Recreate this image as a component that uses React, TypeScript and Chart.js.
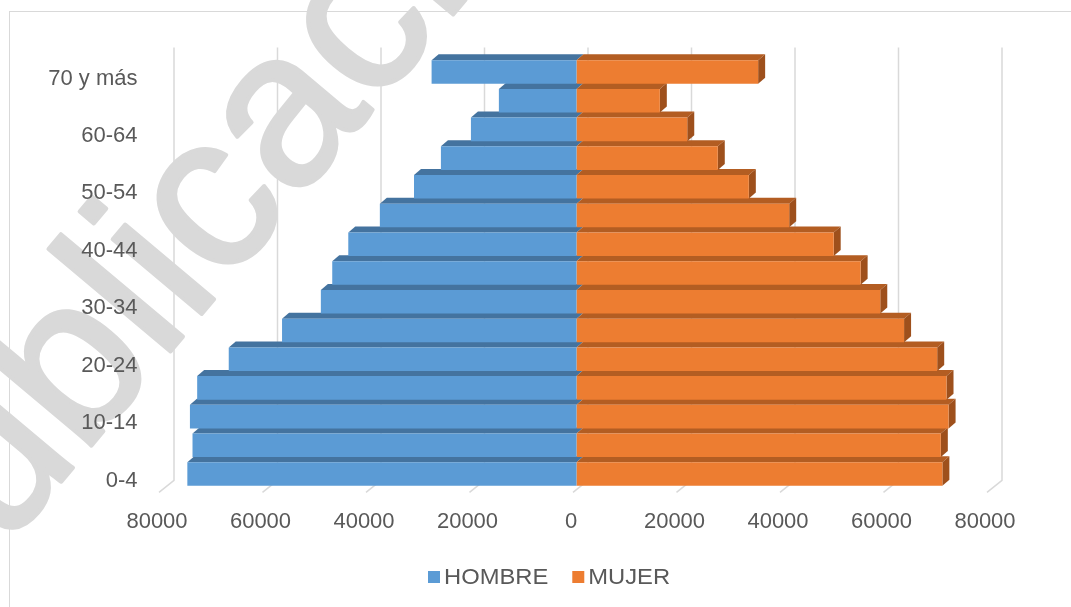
import React, { useEffect, useRef } from 'react';
import { Chart, registerables } from 'chart.js';

Chart.register(...registerables);

// Age groups, youngest first (drawn bottom-up)
const ageGroups = [
  '0-4', '5-9', '10-14', '15-19', '20-24', '25-29', '30-34', '35-39',
  '40-44', '45-49', '50-54', '55-59', '60-64', '65-69', '70 y más',
];
const hombre = [
  75200, 74200, 74700, 73300, 67200, 56900, 49400, 47200,
  44100, 38000, 31400, 26200, 20400, 15000, 28000,
];
const mujer = [
  70700, 70400, 71900, 71500, 69700, 63300, 58700, 54900,
  49700, 41100, 33300, 27300, 21400, 16100, 35100,
];
const seriesNames = ['HOMBRE', 'MUJER'];
const axisMin = -80000;
const axisMax = 80000;
const axisStep = 20000;

const FONT = '"Liberation Sans", Arial, sans-serif';
const TEXT_COLOR = '#595959';
const frontColors = ['#5B9BD5', '#ED7D31'];
const topColors = ['#44739F', '#B35D22'];
const sideColors = ['#3C6690', '#9E501C'];

// Oblique depth of each bar and of the back wall
const DEPTH_X = 7;
const DEPTH_Y = 6;
const WALL_X = 11.5;
const WALL_Y = 10;

const pyramidDecor = {
  id: 'pyramidDecor',
  beforeDraw(chart: any) {
    const { ctx, width, height } = chart;
    ctx.save();
    ctx.fillStyle = '#ffffff';
    ctx.fillRect(0, 0, width, height);
    ctx.strokeStyle = '#d9d9d9';
    ctx.lineWidth = 1;
    ctx.strokeRect(9.5, 11.5, width + 20, height + 20);
    // watermark
    ctx.translate(-75, 644);
    ctx.rotate((-50 * Math.PI) / 180);
    ctx.font = `220px ${FONT}`;
    ctx.fillStyle = '#d9d9d9';
    ctx.strokeStyle = '#d9d9d9';
    ctx.lineWidth = 4;
    ctx.lineJoin = 'round';
    ctx.textBaseline = 'alphabetic';
    ctx.fillText('publicación', 0, 0);
    ctx.strokeText('publicación', 0, 0);
    ctx.restore();
  },
  beforeDatasetsDraw(chart: any) {
    const { ctx, chartArea, scales } = chart;
    const xs = scales.x;
    ctx.save();
    // back-wall gridlines with floor slant
    ctx.strokeStyle = '#d9d9d9';
    ctx.lineWidth = 1.5;
    xs.ticks.forEach((t: any) => {
      const x = xs.getPixelForValue(t.value) + WALL_X;
      ctx.beginPath();
      ctx.moveTo(x, chartArea.top - WALL_Y);
      ctx.lineTo(x, chartArea.bottom - 8);
      ctx.lineTo(x - 15, chartArea.bottom + 4);
      ctx.stroke();
    });
    // top and end faces of the bars
    chart.data.datasets.forEach((_ds: any, di: number) => {
      const meta = chart.getDatasetMeta(di);
      meta.data.forEach((bar: any) => {
        const { x, base, y, height } = bar.getProps(['x', 'base', 'y', 'height'], true);
        const l = Math.min(x, base);
        const r = Math.max(x, base);
        const top = y - height / 2;
        const bottom = y + height / 2;
        ctx.fillStyle = topColors[di];
        ctx.beginPath();
        ctx.moveTo(l, top);
        ctx.lineTo(r, top);
        ctx.lineTo(r + DEPTH_X, top - DEPTH_Y);
        ctx.lineTo(l + DEPTH_X, top - DEPTH_Y);
        ctx.closePath();
        ctx.fill();
        if (x > base) {
          ctx.fillStyle = sideColors[di];
          ctx.beginPath();
          ctx.moveTo(r, top);
          ctx.lineTo(r + DEPTH_X, top - DEPTH_Y);
          ctx.lineTo(r + DEPTH_X, bottom - DEPTH_Y);
          ctx.lineTo(r, bottom);
          ctx.closePath();
          ctx.fill();
        }
      });
    });
    ctx.restore();
  },
  afterDraw(chart: any) {
    const { ctx, width } = chart;
    ctx.save();
    ctx.font = `22px ${FONT}`;
    ctx.textBaseline = 'middle';
    const cy = 577;
    const stretch = 1.08;
    let x = Math.round(width * 0.4);
    seriesNames.forEach((name, i) => {
      ctx.fillStyle = frontColors[i];
      ctx.fillRect(x, cy - 6, 12, 12);
      x += 16;
      ctx.fillStyle = TEXT_COLOR;
      ctx.save();
      ctx.translate(x, cy + 1);
      ctx.scale(stretch, 1);
      ctx.fillText(name, 0, 0);
      ctx.restore();
      x += ctx.measureText(name).width * stretch + 24;
    });
    ctx.restore();
  },
};

export default function App() {
  const canvasRef = useRef<HTMLCanvasElement | null>(null);

  useEffect(() => {
    if (!canvasRef.current) return;
    const chart = new Chart(canvasRef.current, {
      type: 'bar',
      data: {
        labels: ageGroups,
        datasets: [
          {
            label: seriesNames[0],
            data: hombre.map((v) => -v),
            backgroundColor: frontColors[0],
            borderWidth: 0,
          },
          {
            label: seriesNames[1],
            data: mujer,
            backgroundColor: frontColors[1],
            borderWidth: 0,
          },
        ],
      },
      options: {
        indexAxis: 'y',
        animation: false,
        responsive: true,
        maintainAspectRatio: false,
        events: [],
        datasets: { bar: { barPercentage: 0.82, categoryPercentage: 1 } },
        layout: { padding: { left: 0, right: 80.5, top: 57.6, bottom: 58.6 } },
        plugins: { legend: { display: false }, tooltip: { enabled: false } },
        scales: {
          x: {
            stacked: true,
            min: axisMin,
            max: axisMax,
            grid: { display: false, drawTicks: false },
            border: { display: false },
            ticks: {
              stepSize: axisStep,
              color: TEXT_COLOR,
              font: { family: FONT, size: 22 },
              padding: 20,
              labelOffset: -5.5,
              maxRotation: 0,
              callback: (v: any) => String(Math.abs(Number(v))),
            },
            afterFit: (s: any) => {
              s.height = 60;
            },
          },
          y: {
            stacked: true,
            reverse: true,
            grid: { display: false, drawTicks: false },
            border: { display: false },
            ticks: {
              autoSkip: false,
              color: TEXT_COLOR,
              font: { family: FONT, size: 22 },
              padding: 25,
              labelOffset: 6.5,
              callback: (_v: any, i: number) => (i % 2 === 0 ? ageGroups[i] : ''),
            },
            afterFit: (s: any) => {
              s.width = 162.5;
            },
          },
        },
      },
      plugins: [pyramidDecor],
    });
    return () => chart.destroy();
  }, []);

  return (
    <div style={{ position: 'absolute', left: 0, top: 0, width: 1071, height: 607 }}>
      <canvas ref={canvasRef} />
    </div>
  );
}
